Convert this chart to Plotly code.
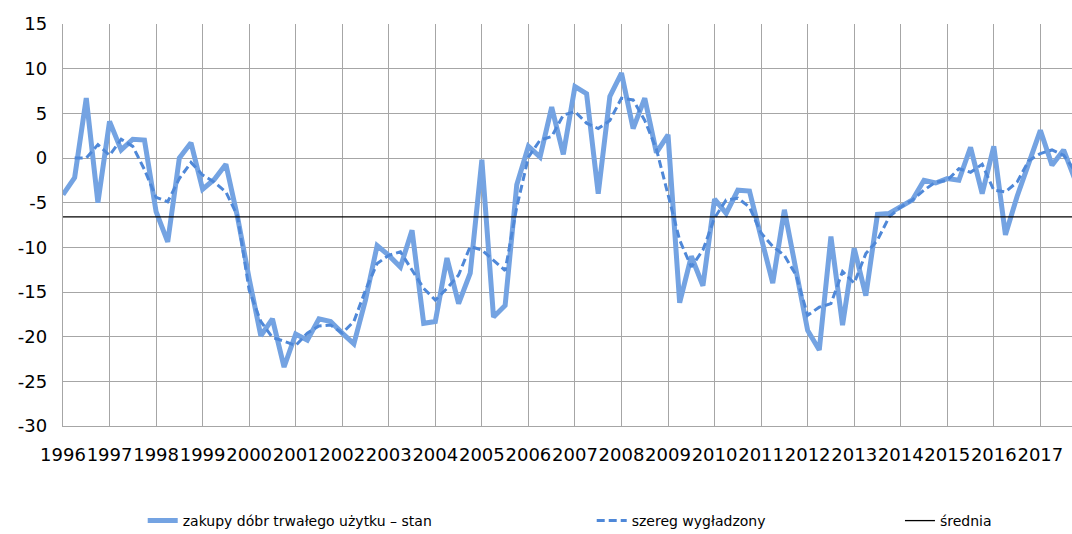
import plotly.graph_objects as go

years = [str(y) for y in range(1996, 2018)]

# quarterly values 1996Q1 .. 2017Q4 (last point partly outside the visible area)
stan = [
    -4.1, -2.2, 6.7, -5.0, 4.1, 0.9, 2.1, 2.0,
    -6.0, -9.4, 0.0, 1.7, -3.5, -2.4, -0.7, -6.6,
    -13.5, -19.9, -18.0, -23.4, -19.7, -20.4, -18.0, -18.3,
    -19.6, -20.8, -15.9, -9.8, -10.9, -12.2, -8.1, -18.5,
    -18.3, -11.2, -16.3, -12.9, -0.2, -17.8, -16.5, -3.0,
    1.3, 0.1, 5.7, 0.4, 8.0, 7.2, -4.0, 6.9,
    9.5, 3.3, 6.7, 0.6, 2.6, -16.2, -11.0, -14.3,
    -4.6, -6.2, -3.6, -3.7, -8.9, -14.0, -5.8, -12.3,
    -19.3, -21.5, -8.8, -18.7, -10.1, -15.4, -6.3, -6.2,
    -5.5, -4.7, -2.5, -2.8, -2.3, -2.5, 1.2, -4.0,
    1.3, -8.6, -4.3, -0.5, 3.1, -0.8, 0.9, -2.5,
]

wygladzony = [
    None, 0.0, 0.0, 1.5, 0.3, 2.1, 1.3, -1.3,
    -4.4, -4.9, -2.3, -0.5, -1.9, -2.7, -3.8, -6.5,
    -14.8, -18.3, -20.1, -20.5, -21.0, -19.6, -18.8, -18.7,
    -19.6, -18.3, -14.8, -11.8, -10.9, -10.5, -12.6, -14.6,
    -15.9, -14.6, -13.1, -9.9, -10.3, -11.4, -12.6, -5.5,
    0.1, 2.0, 2.4, 4.8, 5.2, 3.9, 3.3, 4.2,
    6.7, 6.5, 4.2, 1.0, -4.2, -9.2, -12.2, -10.3,
    -6.7, -4.7, -4.5, -5.5, -8.4, -9.9, -10.9, -13.1,
    -17.6, -16.7, -16.3, -12.7, -14.0, -10.7, -9.2, -6.6,
    -5.5, -4.7, -3.6, -2.7, -2.5, -1.2, -1.6, -0.7,
    -3.6, -3.8, -2.7, -0.3, 0.5, 0.9, 0.3, -1.5,
]

srednia_value = -6.6

y_ticks = [15, 10, 5, 0, -5, -10, -15, -20, -25, -30]

n = len(stan)
idx = list(range(n))
srednia = [srednia_value] * n

fig = go.Figure()
fig.add_trace(go.Scatter(
    x=idx, y=stan, mode="lines", name="zakupy dóbr trwałego użytku – stan",
    line=dict(color="#74A3E2", width=5), legend="legend", showlegend=True))
fig.add_trace(go.Scatter(
    x=idx, y=wygladzony, mode="lines", name="szereg wygładzony",
    line=dict(color="#4F88D8", width=3, dash="8px,4px"), legend="legend2",
    showlegend=True))
fig.add_trace(go.Scatter(
    x=idx, y=srednia, mode="lines", name="średnia",
    line=dict(color="#000000", width=1.3), legend="legend3", showlegend=True))

grid = "#A6A6A6"
leg_y = -0.2363
fig.update_layout(
    width=1072, height=548,
    margin=dict(l=63, r=0, t=24, b=122),
    paper_bgcolor="white", plot_bgcolor="white",
    font=dict(family="DejaVu Sans", color="#000000"),
    showlegend=True,
    xaxis=dict(
        range=[0, 86.72], tickmode="array",
        tickvals=[4 * k for k in range(len(years))], ticktext=years,
        showgrid=True, gridcolor=grid, gridwidth=1.3,
        zeroline=False, showline=True, linecolor=grid, linewidth=1.3,
        ticks="", tickfont=dict(size=18), ticklabelstandoff=12,
        tickangle=0, automargin=False,
    ),
    yaxis=dict(
        range=[-30, 15], tickmode="array", tickvals=y_ticks,
        ticktext=[str(v) for v in y_ticks],
        showgrid=True, gridcolor=grid, gridwidth=1.3,
        zeroline=False, showline=True, linecolor=grid, linewidth=1.3,
        ticks="", tickfont=dict(size=18), ticklabelstandoff=11,
        automargin=False,
    ),
    legend=dict(x=0.079, y=leg_y, xanchor="left", yanchor="middle",
                font=dict(size=14), bgcolor="rgba(0,0,0,0)"),
    legend2=dict(x=0.524, y=leg_y, xanchor="left", yanchor="middle",
                 font=dict(size=14), bgcolor="rgba(0,0,0,0)"),
    legend3=dict(x=0.8295, y=leg_y, xanchor="left", yanchor="middle",
                 font=dict(size=14), bgcolor="rgba(0,0,0,0)"),
)

fig.write_html(
    "out.html",
    config={"displayModeBar": False},
    post_script="document.body.style.margin='0';document.body.style.overflow='hidden';",
)
